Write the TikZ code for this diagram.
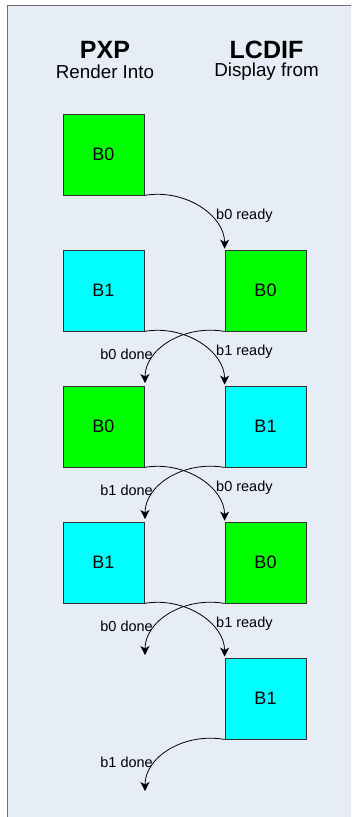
\documentclass[tikz,border=0pt]{standalone}
\usepackage{fontspec}
\setmainfont{Liberation Sans}
\usetikzlibrary{arrows.meta,calc}
\definecolor{bgpanel}{HTML}{E7EDF7}
\definecolor{framegrey}{HTML}{6E6E6E}
\definecolor{bufgreen}{HTML}{00FF00}
\definecolor{bufcyan}{HTML}{00FFFF}
\definecolor{edgegrey}{HTML}{333333}
\tikzset{
  buf/.style   = {rectangle, draw=edgegrey, line width=0.8pt,
                  minimum size=81pt, inner sep=0pt,
                  font=\fontsize{18}{20}\selectfont},
  bufa/.style  = {buf, fill=bufgreen},
  bufb/.style  = {buf, fill=bufcyan},
  head/.style  = {font=\fontsize{25}{28}\selectfont\bfseries, inner sep=0pt},
  sub/.style   = {font=\fontsize{18.8}{21}\selectfont, inner sep=0pt},
  lbl/.style   = {font=\fontsize{14.5}{16}\selectfont, inner sep=0pt},
  hand/.style  = {-{Stealth[length=9pt,width=9pt,inset=2.5pt]}, draw=black, line width=0.8pt},
}

\begin{document}
\begin{tikzpicture}[x=1pt,y=-1pt]
  \useasboundingbox (0,0) rectangle (351,817);
  \clip (0,0) rectangle (351,817);
  % panel
  \draw[framegrey, line width=1.5pt, fill=bgpanel] (7.5,5.5) rectangle (370,840);
  % column headings
  \node[head] (hpxp) at (105,50) {PXP};
  \node[sub]  (spxp) at (105,72) {Render Into};
  \node[head] (hlcd) at (266.5,50) {LCDIF};
  \node[sub]  (slcd) at (266.5,72) {Display from};
  % buffers, PXP side
  \node[bufa] (p1) at (103.5,154.5) {B0};
  \node[bufb] (p2) at (103.5,290.5) {B1};
  \node[bufa] (p3) at (103.5,426.5) {B0};
  \node[bufb] (p4) at (103.5,562.5) {B1};
  % buffers, LCDIF side
  \node[bufa] (l1) at (265.5,290.5) {B0};
  \node[bufb] (l2) at (265.5,426.5) {B1};
  \node[bufa] (l3) at (265.5,562.5) {B0};
  \node[bufb] (l4) at (265.5,698.5) {B1};
  % free ends of the "done" hand-backs
  \coordinate (d1) at (145,383);
  \coordinate (d2) at (145,519);
  \coordinate (d3) at (145,655);
  \coordinate (d4) at (145,791);
  % handovers
  \foreach \a/\b in {p1/l1,p2/l2,p3/l3,p4/l4}
    \draw[hand, shorten >=1pt] (\a.south east) .. controls +(41,-7) and +(0,-34) .. (\b.north west);
  \foreach \a/\b in {l1/d1,l2/d2,l3/d3,l4/d4}
    \draw[hand] (\a.south west) .. controls +(-41,-7) and +(0,-34) .. (\b);
  % labels
  \node[lbl,anchor=west] (r1) at (216,216) {b0 ready};
  \node[lbl,anchor=west] (r2) at (216,352) {b1 ready};
  \node[lbl,anchor=west] (r3) at (216,488) {b0 ready};
  \node[lbl,anchor=west] (r4) at (216,624) {b1 ready};
  \node[lbl,anchor=east] (k1) at (153,354) {b0 done};
  \node[lbl,anchor=east] (k2) at (153,490) {b1 done};
  \node[lbl,anchor=east] (k3) at (153,626) {b0 done};
  \node[lbl,anchor=east] (k4) at (153,762) {b1 done};
\end{tikzpicture}
\end{document}
